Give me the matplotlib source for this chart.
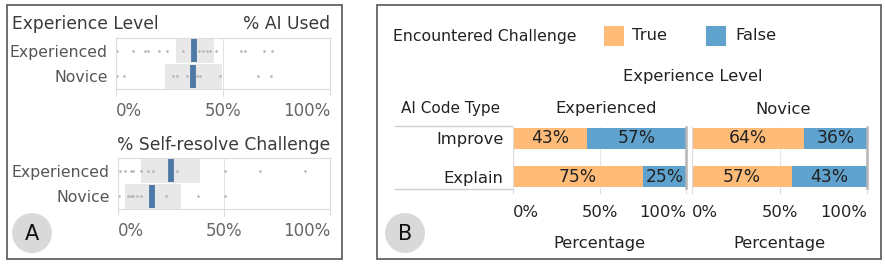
import matplotlib
matplotlib.use("Agg")
import matplotlib.pyplot as plt
from matplotlib.patches import Rectangle, Circle

# ---------------- data ----------------
levels = ["Experienced", "Novice"]

# Panel A: % AI Used (individual participants, box = IQR band, bar = median)
ai_used_exp = [0.3, 7.8, 13.6, 15.1, 20.2, 24.0, 31.4, 36.1, 38.9, 40.5, 42.4, 43.9, 46.7, 58.4, 60.3, 69.2, 73.0]
ai_used_nov = [0.6, 3.7, 26.5, 28.3, 33.0, 38.0, 39.3, 48.6, 66.2, 72.3]
ai_used_q1 = [27.9, 22.9]
ai_used_q3 = [45.8, 49.4]
ai_used_med = [36.6, 36.0]

# Panel A: % Self-resolve Challenge
selfres_exp = [0.9, 3.3, 6.0, 7.2, 10.7, 14.3, 16.7, 27.7, 50.5, 67.0, 88.2]
selfres_nov = [0.6, 4.9, 6.0, 7.2, 9.1, 10.7, 22.6, 37.9, 50.5]
selfres_q1 = [10.7, 3.3]
selfres_q3 = [38.7, 29.6]
selfres_med = [24.8, 15.9]

# Panel B: Encountered challenge by AI code type
code_types = ["Improve", "Explain"]
exp_true = [43, 75]
exp_false = [57, 25]
nov_true = [64, 57]
nov_false = [36, 43]

pct_ticks = [0, 50, 100]
pct_labels = ["0%", "50%", "100%"]

C_TRUE = "#FFBB78"
C_FALSE = "#5FA2CE"
C_MED = "#4E79A7"

plt.rcParams["font.family"] = ["DejaVu Sans"]

W, H = 885, 273
fig = plt.figure(figsize=(W / 100, H / 100), dpi=100)


def rect(x0, y0, x1, y1):
    return [x0 / W, 1 - y1 / H, (x1 - x0) / W, (y1 - y0) / H]


ov = fig.add_axes([0, 0, 1, 1], zorder=0)
ov.set_xlim(0, W)
ov.set_ylim(H, 0)
ov.axis("off")

# panel borders
ov.add_patch(Rectangle((7, 5), 335, 254, fill=False, ec="#555555", lw=1.2))
ov.add_patch(Rectangle((377, 5), 504, 254, fill=False, ec="#555555", lw=1.2))
# circles
for cx, letter in [(32, "A"), (405, "B")]:
    ov.add_patch(Circle((cx, 233), 20, color="#d9d9d9", lw=0))
    ov.text(cx, 234, letter, ha="center", va="center", fontsize=15, color="#111111")


def fix_xticklabels(ax):
    labs = ax.get_xticklabels()
    labs[0].set_ha("left")
    labs[-1].set_ha("right")


def dot_panel(r, dots, q1, q3, med):
    ax = fig.add_axes(r, zorder=1)
    for i in range(len(levels)):
        ax.barh(i, q3[i] - q1[i], left=q1[i], height=0.97, color="#e8e8e8", lw=0, zorder=1)
        ax.scatter(dots[i], [i] * len(dots[i]), s=3.5, color="#b3b3b3", lw=0, zorder=2)
        ax.vlines(med[i], i - 0.46, i + 0.46, colors=C_MED, lw=4.2, zorder=3)
    ax.set_xlim(0, 100)
    ax.set_ylim(1.5, -0.5)
    ax.set_yticks(range(len(levels)), levels)
    ax.set_xticks(pct_ticks, pct_labels)
    fix_xticklabels(ax)
    ax.tick_params(axis="y", length=0, pad=6, labelsize=11.3, labelcolor="#555555")
    ax.tick_params(axis="x", length=5, width=0.8, color="#dcdcdc", pad=4,
                   labelsize=12, labelcolor="#666666")
    for s in ax.spines.values():
        s.set_color("#dcdcdc")
        s.set_linewidth(0.8)
    ax.xaxis.grid(True, color="#e3e3e3", lw=0.8)
    ax.set_axisbelow(True)
    return ax


dot_panel(rect(116, 38, 330, 89), [ai_used_exp, ai_used_nov], ai_used_q1, ai_used_q3, ai_used_med)
dot_panel(rect(118, 158, 330, 209), [selfres_exp, selfres_nov], selfres_q1, selfres_q3, selfres_med)

ov.text(12, 24, "Experience Level", ha="left", va="center", fontsize=12.3, color="#3a3a3a")
ov.text(330, 24, "% AI Used", ha="right", va="center", fontsize=12.3, color="#3a3a3a")
ov.text(330, 145, "% Self-resolve Challenge", ha="right", va="center", fontsize=12.3, color="#3a3a3a")


# ---------------- Panel B ----------------
def bar_panel(r, trues, falses, show_y):
    ax = fig.add_axes(r, zorder=1)
    y = list(range(len(code_types)))
    ax.barh(y, trues, height=0.54, color=C_TRUE, lw=0, zorder=2)
    ax.barh(y, falses, left=trues, height=0.54, color=C_FALSE, lw=0, zorder=2)
    for i in y:
        ax.text(trues[i] / 2, i, f"{trues[i]}%", ha="center", va="center",
                fontsize=12.3, color="#222222", zorder=3)
        ax.text(trues[i] + falses[i] / 2, i, f"{falses[i]}%", ha="center", va="center",
                fontsize=12.3, color="#222222", zorder=3)
    ax.set_xlim(0, 100)
    ax.set_ylim(1.29, -0.29)
    ax.set_xticks(pct_ticks, pct_labels)
    fix_xticklabels(ax)
    ax.tick_params(axis="x", length=4, width=0.8, color="#dcdcdc", pad=8,
                   labelsize=11.8, labelcolor="#222222")
    if show_y:
        ax.set_yticks(y, code_types)
        ax.tick_params(axis="y", length=0, pad=7, labelsize=11.8, labelcolor="#222222")
    else:
        ax.set_yticks([])
    ax.spines["top"].set_visible(False)
    ax.spines["bottom"].set_visible(False)
    ax.spines["left"].set_color("#dcdcdc")
    ax.spines["left"].set_linewidth(0.8)
    ax.spines["right"].set_color("#b5b5b5")
    ax.spines["right"].set_linewidth(1.8)
    ax.xaxis.grid(True, color="#e6e6e6", lw=0.8)
    ax.set_axisbelow(True)
    ax.set_xlabel("Percentage", fontsize=11.8, color="#222222", labelpad=12)
    return ax


bar_panel(rect(513, 127, 686, 188), exp_true, exp_false, True)
bar_panel(rect(692, 127, 867, 188), nov_true, nov_false, False)

# header lines of the row-label column
ov.plot([395, 512], [126, 126], color="#d0d0d0", lw=1)
ov.plot([395, 512], [189, 189], color="#d0d0d0", lw=1)

ov.text(451, 109, "AI Code Type", ha="center", va="center", fontsize=11, color="#222222")
ov.text(606, 109, "Experienced", ha="center", va="center", fontsize=11.8, color="#222222")
ov.text(783, 109, "Novice", ha="center", va="center", fontsize=11.8, color="#222222")
ov.text(693, 76, "Experience Level", ha="center", va="center", fontsize=11.8, color="#222222")

# legend
ov.text(393, 36, "Encountered Challenge", ha="left", va="center", fontsize=11.3, color="#222222")
ov.add_patch(Rectangle((604, 26), 20, 20, color=C_TRUE, lw=0))
ov.text(632, 36, "True", ha="left", va="center", fontsize=11.8, color="#222222")
ov.add_patch(Rectangle((706, 26), 20, 20, color=C_FALSE, lw=0))
ov.text(735, 36, "False", ha="left", va="center", fontsize=11.8, color="#222222")

fig.savefig("out.png", dpi=100)
